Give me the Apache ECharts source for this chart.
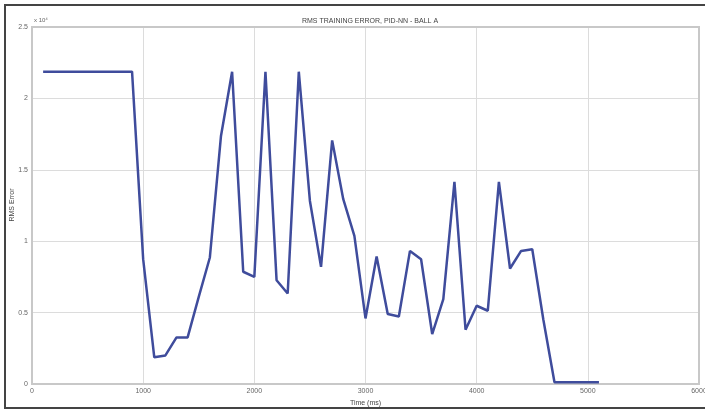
<!DOCTYPE html>
<html>
<head>
<meta charset="utf-8">
<script src="https://cdn.jsdelivr.net/npm/echarts@6/dist/echarts.min.js"></script>
<style>
  html, body { margin: 0; padding: 0; background: #fff; }
  #chart { width: 705px; height: 410px; }
</style>
</head>
<body>
<div id="chart"></div>
<script>
// time in ms, error in units of 10^4
const timeMs = [100, 900, 1000, 1100, 1200, 1300, 1400, 1500, 1600, 1700, 1800, 1900, 2000,
  2100, 2200, 2300, 2400, 2500, 2600, 2700, 2800, 2900, 3000, 3100, 3200, 3300, 3400, 3500,
  3600, 3700, 3800, 3900, 4000, 4100, 4200, 4300, 4400, 4500, 4600, 4700, 5100];
const rmsError = [2.187, 2.187, 0.874, 0.187, 0.2, 0.326, 0.326, 0.61, 0.886, 1.737, 2.187, 0.786, 0.75,
  2.187, 0.727, 0.634, 2.187, 1.282, 0.82, 1.706, 1.294, 1.037, 0.459, 0.893, 0.49, 0.473, 0.932, 0.874,
  0.35, 0.594, 1.415, 0.38, 0.548, 0.513, 1.415, 0.809, 0.932, 0.944, 0.45, 0.012, 0.012];
const xTicks = [0, 1000, 2000, 3000, 4000, 5000, 6000];
const yTicks = [0, 0.5, 1, 1.5, 2, 2.5];

const points = timeMs.map((t, i) => [t, rmsError[i]]);

const chart = echarts.init(document.getElementById('chart'));
const tickFont = {color: '#666', fontSize: 7, fontFamily: 'Liberation Sans'};

chart.setOption({
  animation: false,
  backgroundColor: '#fff',
  title: {
    text: 'RMS TRAINING ERROR, PID-NN - BALL A',
    left: 365, top: 13, textAlign: 'center',
    textStyle: {fontSize: 7, fontWeight: 'normal', color: '#444', fontFamily: 'Liberation Sans'}
  },
  grid: {left: 32, right: 6, top: 27, bottom: 26, containLabel: false, outerBoundsMode: 'none'},
  xAxis: {
    type: 'value', min: xTicks[0], max: xTicks[xTicks.length - 1], interval: 1000,
    name: 'Time (ms)', nameLocation: 'middle', nameGap: 14,
    nameTextStyle: {fontSize: 7, color: '#444', fontFamily: 'Liberation Sans'},
    axisLine: {lineStyle: {color: '#c8c8c8', width: 2}},
    axisTick: {show: false},
    axisLabel: Object.assign({margin: 4, formatter: v => String(v)}, tickFont),
    splitLine: {lineStyle: {color: '#dcdcdc', width: 1}}
  },
  yAxis: {
    type: 'value', min: yTicks[0], max: yTicks[yTicks.length - 1], interval: 0.5,
    axisLine: {show: true, lineStyle: {color: '#c8c8c8', width: 2}},
    axisTick: {show: false},
    axisLabel: Object.assign({margin: 4}, tickFont),
    splitLine: {lineStyle: {color: '#dcdcdc', width: 1}}
  },
  graphic: [
    {type: 'rect', shape: {x: 5, y: 5, width: 720, height: 403},
      style: {fill: null, stroke: '#444', lineWidth: 2}, silent: true},
    {type: 'rect', shape: {x: 32, y: 27, width: 667, height: 357},
      style: {fill: null, stroke: '#c8c8c8', lineWidth: 2}, silent: true, z: 1},
    {type: 'text', x: 34, y: 17,
      style: {text: 'x 10\u2074', fontSize: 6, fill: '#666', fontFamily: 'Liberation Sans'}},
    {type: 'text', x: 12, y: 205, rotation: Math.PI / 2,
      style: {text: 'RMS Error', fontSize: 7, fill: '#444', fontFamily: 'Liberation Sans',
        align: 'center', verticalAlign: 'middle'}}
  ],
  series: [{
    type: 'line',
    data: points,
    showSymbol: false,
    lineStyle: {color: '#3f4c9c', width: 2.5},
    z: 3
  }]
});
</script>
</body>
</html>
